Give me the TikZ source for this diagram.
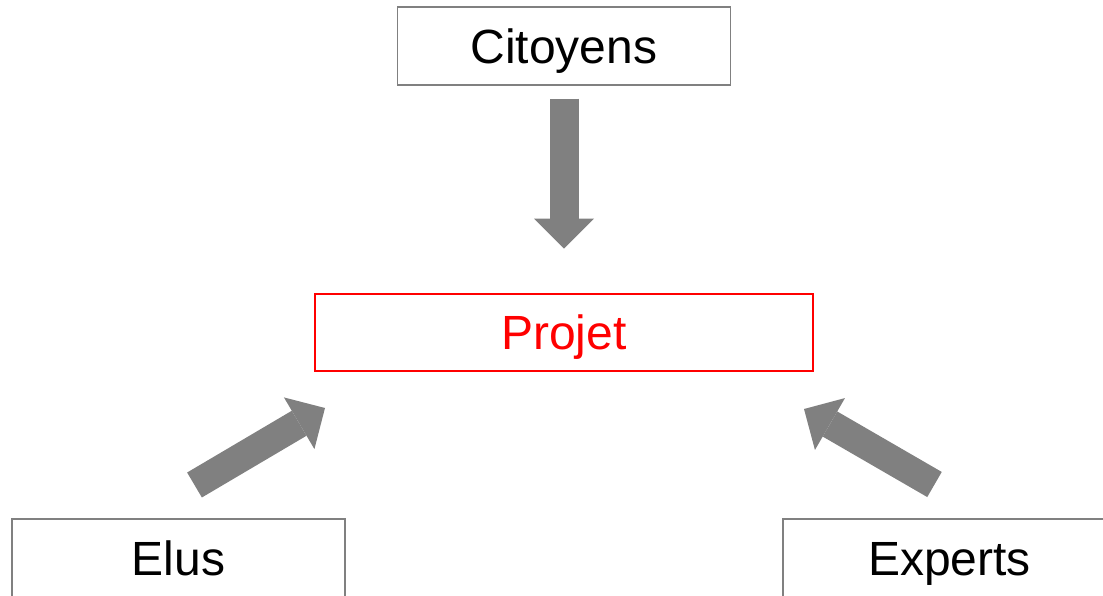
\documentclass[tikz,border=0pt]{standalone}
\usepackage{fontspec}
\setmainfont{Liberation Sans}
\usetikzlibrary{calc, positioning}
\usetikzlibrary{arrows.meta}

\begin{document}
\begin{tikzpicture}[x=1pt, y=1pt]
	\useasboundingbox (0,0) rectangle (1103,595);
	\clip (0,0) rectangle (1103,595);

	% 定义样式
	\tikzset{
	boite/.style = {draw=gray, line width=1.2pt, minimum width=333pt, minimum height=78pt,
		inner sep=0pt, text height=34.4pt, text depth=0pt, font=\fontsize{48}{50}\selectfont},
	projet/.style = {boite, draw=red, text=red, line width=2pt, minimum width=498pt, minimum height=77pt},
	fleche/.style = {draw=gray, line width=29pt, arrows = {-Triangle[width=60pt, length=30pt, line width=0pt]}}
	}

	% 绘制方框
	\node[boite] (cit) at (564,549) {Citoyens};
	\node[projet, below=207pt of cit] (proj) {Projet};
	\node[boite] (elus) at (178.5,37) {Elus};
	\node[boite] (exp) at (949.5,37) {Experts};

	% 绘制箭头
	\coordinate (cit-out) at ($(cit.south)+(0,-13)$);
	\coordinate (proj-top) at ($(proj.north)+(0,44)$);
	\coordinate (elus-out) at (194.5,110);
	\coordinate (proj-left) at (325,187);
	\coordinate (exp-out) at (934.5,110.5);
	\coordinate (proj-right) at (804,186);

	\draw[fleche] (cit-out) -- (proj-top);
	\draw[fleche] (elus-out) -- (proj-left);
	\draw[fleche] (exp-out) -- (proj-right);

\end{tikzpicture}
\end{document}
